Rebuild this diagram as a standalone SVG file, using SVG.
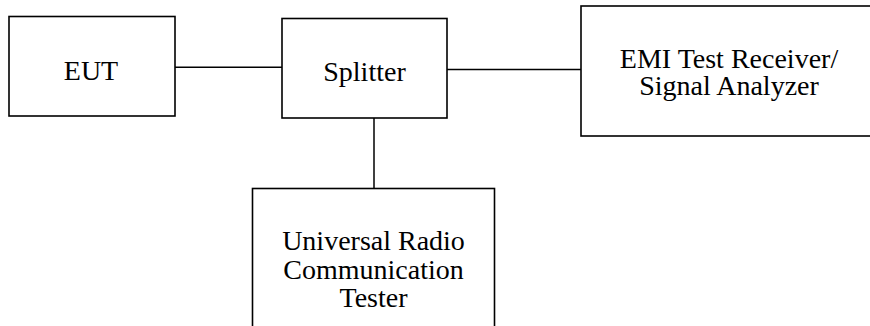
<svg xmlns="http://www.w3.org/2000/svg" width="870" height="326" viewBox="0 0 870 326">
<style>
.box{fill:#fff;stroke:#000;stroke-width:1.6}
.wire{stroke:#000;stroke-width:1.5;fill:none}
text{font-family:"Liberation Serif","Times New Roman",serif;font-size:28px;fill:#000;text-anchor:middle}
</style>
<rect width="870" height="326" fill="#fff"/>
<g id="connectors">
<line class="wire" x1="175" y1="67.3" x2="282" y2="67.3"/>
<line class="wire" x1="447" y1="69.5" x2="581" y2="69.5"/>
<line class="wire" x1="374" y1="118" x2="374" y2="188.5"/>
</g>
<g id="eut">
<rect class="box" x="9" y="16.5" width="166" height="99.5"/>
<text x="91" y="79.5">EUT</text>
</g>
<g id="splitter">
<rect class="box" x="282" y="18.5" width="165" height="99.5"/>
<text x="364.5" y="80.5">Splitter</text>
</g>
<g id="emi">
<rect class="box" x="581" y="6" width="297" height="130"/>
<text x="729" y="67.5">EMI Test Receiver/</text>
<text x="729" y="94.5">Signal Analyzer</text>
</g>
<g id="urct">
<rect class="box" x="252.5" y="188.5" width="242" height="150"/>
<text x="373.5" y="250">Universal Radio</text>
<text x="373.5" y="278.5">Communication</text>
<text x="373.5" y="307">Tester</text>
</g>
</svg>
